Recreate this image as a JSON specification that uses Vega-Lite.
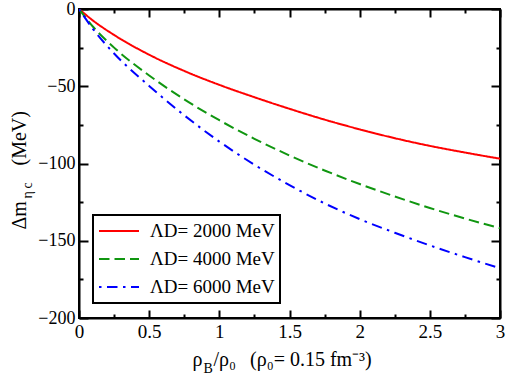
{
  "$schema": "https://vega.github.io/schema/vega-lite/v6.json",
  "width": 421,
  "height": 309,
  "autosize": {"type": "none"},
  "padding": {"left": 79, "top": 9, "right": 7, "bottom": 59},
  "background": "white",
  "config": {
    "view": {"stroke": "black", "strokeWidth": 2},
    "font": "Liberation Serif, Times New Roman, serif",
    "legend": {"strokeWidth": 2},
    "axis": {
      "domainColor": "black",
      "domainWidth": 2,
      "tickColor": "black",
      "tickWidth": 2,
      "grid": false,
      "labelFont": "Liberation Serif, Times New Roman, serif",
      "labelFontSize": 18,
      "labelColor": "black",
      "titleFont": "Liberation Serif, Times New Roman, serif",
      "titleFontSize": 20,
      "titleFontWeight": "normal",
      "titleColor": "black",
      "titleAlign": "left",
      "titleBaseline": "alphabetic"
    }
  },
  "data": {
    "values": [
      {"rho": 0, "dm": 0, "series": "ΛD= 2000 MeV"},
      {"rho": 0.1, "dm": -7.5, "series": "ΛD= 2000 MeV"},
      {"rho": 0.25, "dm": -16.8, "series": "ΛD= 2000 MeV"},
      {"rho": 0.5, "dm": -29.6, "series": "ΛD= 2000 MeV"},
      {"rho": 0.75, "dm": -40.1, "series": "ΛD= 2000 MeV"},
      {"rho": 1, "dm": -49.1, "series": "ΛD= 2000 MeV"},
      {"rho": 1.25, "dm": -57.1, "series": "ΛD= 2000 MeV"},
      {"rho": 1.5, "dm": -64.6, "series": "ΛD= 2000 MeV"},
      {"rho": 1.75, "dm": -71.6, "series": "ΛD= 2000 MeV"},
      {"rho": 2, "dm": -77.9, "series": "ΛD= 2000 MeV"},
      {"rho": 2.25, "dm": -83.6, "series": "ΛD= 2000 MeV"},
      {"rho": 2.5, "dm": -88.6, "series": "ΛD= 2000 MeV"},
      {"rho": 2.75, "dm": -92.9, "series": "ΛD= 2000 MeV"},
      {"rho": 3, "dm": -96.9, "series": "ΛD= 2000 MeV"},
      {"rho": 0, "dm": 0, "series": "ΛD= 4000 MeV"},
      {"rho": 0.1, "dm": -11.5, "series": "ΛD= 4000 MeV"},
      {"rho": 0.25, "dm": -25, "series": "ΛD= 4000 MeV"},
      {"rho": 0.5, "dm": -43, "series": "ΛD= 4000 MeV"},
      {"rho": 0.75, "dm": -58.5, "series": "ΛD= 4000 MeV"},
      {"rho": 1, "dm": -72, "series": "ΛD= 4000 MeV"},
      {"rho": 1.25, "dm": -84, "series": "ΛD= 4000 MeV"},
      {"rho": 1.5, "dm": -94.8, "series": "ΛD= 4000 MeV"},
      {"rho": 1.75, "dm": -104.5, "series": "ΛD= 4000 MeV"},
      {"rho": 2, "dm": -113.3, "series": "ΛD= 4000 MeV"},
      {"rho": 2.25, "dm": -121.3, "series": "ΛD= 4000 MeV"},
      {"rho": 2.5, "dm": -128.8, "series": "ΛD= 4000 MeV"},
      {"rho": 2.75, "dm": -135.6, "series": "ΛD= 4000 MeV"},
      {"rho": 3, "dm": -141.9, "series": "ΛD= 4000 MeV"},
      {"rho": 0, "dm": 0, "series": "ΛD= 6000 MeV"},
      {"rho": 0.1, "dm": -13, "series": "ΛD= 6000 MeV"},
      {"rho": 0.25, "dm": -28.8, "series": "ΛD= 6000 MeV"},
      {"rho": 0.5, "dm": -49.8, "series": "ΛD= 6000 MeV"},
      {"rho": 0.75, "dm": -68.8, "series": "ΛD= 6000 MeV"},
      {"rho": 1, "dm": -85.8, "series": "ΛD= 6000 MeV"},
      {"rho": 1.25, "dm": -100.8, "series": "ΛD= 6000 MeV"},
      {"rho": 1.5, "dm": -114, "series": "ΛD= 6000 MeV"},
      {"rho": 1.75, "dm": -125.8, "series": "ΛD= 6000 MeV"},
      {"rho": 2, "dm": -136, "series": "ΛD= 6000 MeV"},
      {"rho": 2.25, "dm": -144.8, "series": "ΛD= 6000 MeV"},
      {"rho": 2.5, "dm": -153, "series": "ΛD= 6000 MeV"},
      {"rho": 2.75, "dm": -160.6, "series": "ΛD= 6000 MeV"},
      {"rho": 3, "dm": -167.8, "series": "ΛD= 6000 MeV"}
    ]
  },
  "layer": [
    {
      "mark": {"type": "line", "strokeWidth": 2, "interpolate": "monotone", "clip": true},
      "encoding": {
        "x": {
          "field": "rho", "type": "quantitative",
          "scale": {"domain": [0, 3], "nice": false, "zero": false},
          "axis": {
            "orient": "bottom",
            "values": [0, 0.25, 0.5, 0.75, 1, 1.25, 1.5, 1.75, 2, 2.25, 2.5, 2.75, 3],
            "labelExpr": "datum.value % 0.5 === 0 ? format(datum.value, '~g') : ''",
            "tickSize": {"condition": {"test": "datum.value % 0.5 === 0", "value": -8}, "value": -4},
            "labelPadding": 12,
            "labelFontSize": 19,
            "labelFlush": false,
            "title": "/ρ₀\u2002\u2009(ρ₀= 0.15 fm⁻³)",
            "titleX": 134,
            "titleY": 47
          }
        },
        "y": {
          "field": "dm", "type": "quantitative",
          "scale": {"domain": [-200, 0], "nice": false, "zero": false},
          "axis": {
            "orient": "left",
            "values": [-200, -175, -150, -125, -100, -75, -50, -25, 0],
            "labelExpr": "datum.value % 50 === 0 ? format(datum.value, '~g') : ''",
            "tickSize": {"condition": {"test": "datum.value % 50 === 0", "value": -9}, "value": -4},
            "labelPadding": 13,
            "labelFlush": false,
            "title": "(MeV)",
            "titleX": -54,
            "titleY": 156,
            "titleAngle": 270
          }
        },
        "color": {
          "field": "series", "type": "nominal",
          "scale": {"domain": ["ΛD= 2000 MeV", "ΛD= 4000 MeV", "ΛD= 6000 MeV"], "range": ["#ff0000", "#109610", "#0000ff"]},
          "legend": {
            "title": null,
            "orient": "none",
            "legendX": 14,
            "legendY": 206,
            "strokeColor": "black",
            "fillColor": "white",
            "padding": 5,
            "symbolType": "stroke",
            "symbolSize": 1600,
            "symbolStrokeWidth": 2,
            "clipHeight": 22,
            "labelFont": "Liberation Serif, Times New Roman, serif",
            "labelFontSize": 19,
            "labelColor": "black",
            "labelOffset": 10,
            "rowPadding": 6
          }
        },
        "strokeDash": {
          "field": "series", "type": "nominal",
          "scale": {"domain": ["ΛD= 2000 MeV", "ΛD= 4000 MeV", "ΛD= 6000 MeV"], "range": [[1, 0], [10.5, 5], [2.5, 5.5, 10.5, 5.5]]},
          "legend": null
        }
      }
    },
    {
      "mark": {"type": "line", "opacity": 0},
      "encoding": {
        "x": {
          "field": "rho", "type": "quantitative",
          "axis": {
            "orient": "top",
            "values": [0, 0.25, 0.5, 0.75, 1, 1.25, 1.5, 1.75, 2, 2.25, 2.5, 2.75, 3],
            "labels": false,
            "title": null,
            "tickSize": {"condition": {"test": "datum.value % 0.5 === 0", "value": -8}, "value": -4}
          }
        },
        "y": {
          "field": "dm", "type": "quantitative",
          "axis": {
            "orient": "right",
            "values": [-200, -175, -150, -125, -100, -75, -50, -25, 0],
            "labels": false,
            "title": null,
            "tickSize": {"condition": {"test": "datum.value % 50 === 0", "value": -9}, "value": -4}
          }
        },
        "detail": {"field": "series", "type": "nominal"}
      }
    },
    {
      "mark": {"type": "line", "opacity": 0},
      "encoding": {
        "x": {
          "field": "rho", "type": "quantitative",
          "axis": {
            "orient": "bottom",
            "domain": false,
            "ticks": false,
            "labels": false,
            "title": "B",
            "titleFontSize": 14,
            "titleX": 124,
            "titleY": 54
          }
        },
        "y": {
          "field": "dm", "type": "quantitative",
          "axis": {
            "orient": "left",
            "domain": false,
            "ticks": false,
            "labels": false,
            "title": "η\u2009c",
            "titleFontSize": 14,
            "titleX": -48,
            "titleY": 189,
            "titleAngle": 270
          }
        },
        "detail": {"field": "series", "type": "nominal"}
      }
    },
    {
      "mark": {"type": "line", "opacity": 0},
      "encoding": {
        "x": {
          "field": "rho", "type": "quantitative",
          "axis": {
            "orient": "bottom",
            "domain": false,
            "ticks": false,
            "labels": false,
            "title": "ρ",
            "titleX": 113,
            "titleY": 47
          }
        },
        "y": {
          "field": "dm", "type": "quantitative",
          "axis": {
            "orient": "left",
            "domain": false,
            "ticks": false,
            "labels": false,
            "title": "Δm",
            "titleX": -54,
            "titleY": 220,
            "titleAngle": 270
          }
        },
        "detail": {"field": "series", "type": "nominal"}
      }
    }
  ],
  "resolve": {"axis": {"x": "independent", "y": "independent"}}
}
